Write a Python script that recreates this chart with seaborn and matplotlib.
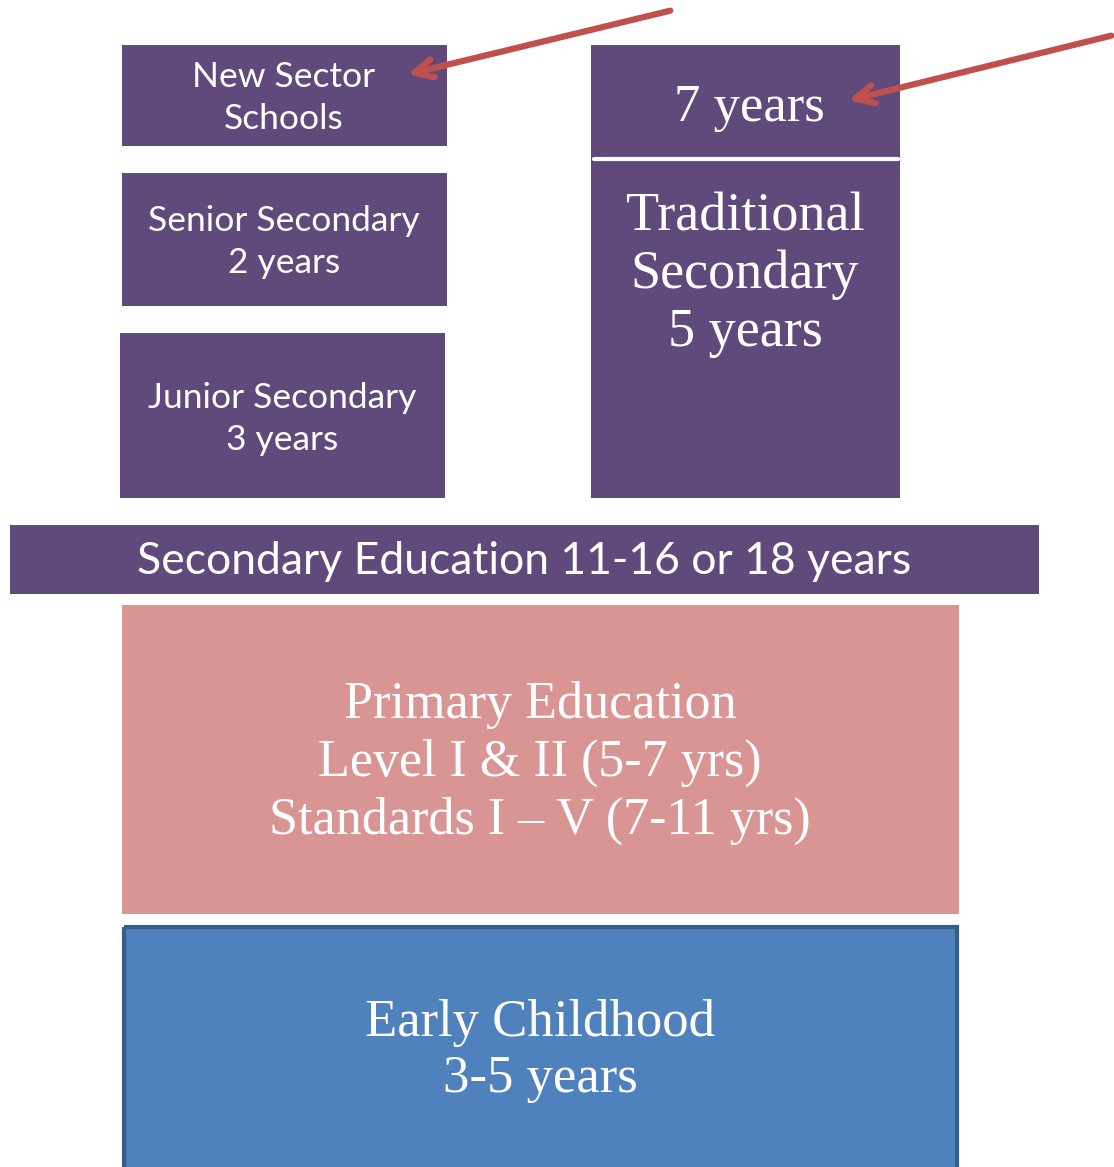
import matplotlib
matplotlib.use("Agg")
import matplotlib.pyplot as plt
import seaborn as sns

# box extents in picture pixels (left, top, width, height)
box_names = ["New Sector", "Senior", "Junior", "Traditional", "Secondary", "Primary", "Early"]
box_left = [122, 122, 120, 591, 10, 122, 124]
box_top = [45, 173, 333, 45, 525, 605, 927]
box_width = [325, 325, 325, 309, 1029, 837, 833]
box_height = [101, 133, 165, 453, 69, 309, 250]
box_colors = ["#604A7B", "#604A7B", "#604A7B", "#604A7B", "#604A7B", "#D99594", "#4F81BD"]

labels = [
    "New Sector\nSchools",
    "Senior Secondary\n2 years",
    "Junior Secondary\n3 years",
    "Traditional\nSecondary\n5 years",
    "Secondary Education 11-16 or 18 years",
    "Primary Education\nLevel I & II (5-7 yrs)\nStandards I \u2013 V (7-11 yrs)",
    "Early Childhood\n3-5 years",
]
label_x = [284, 284, 282, 745, 524, 540, 540]
label_y = [98, 242, 419, 275, 561, 763, 1051]
label_size = [25.5, 25.5, 25.5, 39, 32, 37.5, 38]
label_spacing = [1.4, 1.4, 1.4, 1.18, 1.0, 1.27, 1.2]
label_serif = [False, False, False, True, False, True, True]

# arrows: tail (x, y) -> head (x, y)
arrow_tail = [(673, 10), (1114, 35)]
arrow_head = [(405, 75), (846, 101)]

sns.set_theme(style="white")
plt.rcParams["font.family"] = ["Lato", "DejaVu Sans"]

fig = plt.figure(figsize=(11.14, 11.67), dpi=100)
ax = fig.add_axes([0, 0, 1, 1])
ax.set_xlim(0, 1114)
ax.set_ylim(1167, 0)
ax.axis("off")

ax.bar(box_left, box_height, width=box_width, bottom=box_top, align="edge",
       color=box_colors, edgecolor="none", zorder=1)
# darker outline on the early childhood box
ax.bar(box_left[-1], box_height[-1], width=box_width[-1], bottom=box_top[-1], align="edge",
       color="none", edgecolor="#385D8A", linewidth=3, zorder=2)

# divider inside the traditional box
sns.lineplot(x=[594, 898], y=[159, 159], color="white", linewidth=3, ax=ax,
             estimator=None, sort=False)
ax.text(749, 108, "7 years", ha="center", va="center", color="white",
        fontsize=38, family=["Liberation Serif", "DejaVu Serif"], zorder=3)

for txt, x, y, s, ls, serif in zip(labels, label_x, label_y, label_size,
                                   label_spacing, label_serif):
    fam = ["Liberation Serif", "DejaVu Serif"] if serif else ["Lato", "DejaVu Sans"]
    ax.text(x, y, txt, ha="center", va="center", color="white", fontsize=s,
            family=fam, linespacing=ls, zorder=3)

for (tx, ty), (hx, hy) in zip(arrow_tail, arrow_head):
    ax.annotate("", xy=(hx, hy), xytext=(tx, ty),
                arrowprops=dict(arrowstyle="->,head_length=1.1,head_width=0.55",
                                color="#C0504D", lw=4.5),
                zorder=4)

fig.savefig("out.png", dpi=100)
